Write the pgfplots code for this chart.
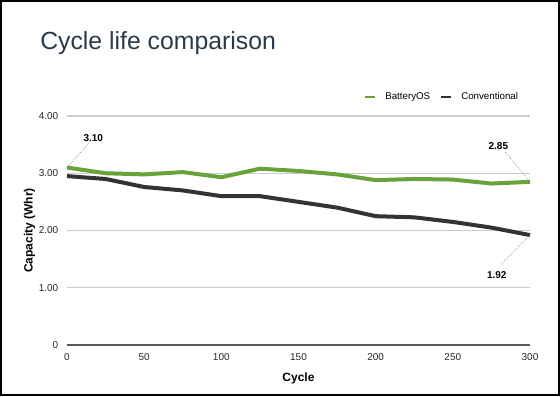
\documentclass[border=0pt]{standalone}
\usepackage{pgfplots}
\pgfplotsset{compat=1.18}
\usepackage{fontspec}
\setmainfont{Liberation Sans}
\definecolor{bgreen}{HTML}{6AA23A}
\definecolor{bdark}{HTML}{333333}
\definecolor{titlec}{HTML}{2B3A4A}
\definecolor{gridc}{HTML}{CCCCCC}
\begin{document}
\begin{tikzpicture}
\useasboundingbox (-50.25pt,-38.25pt) rectangle (369.75pt,258.75pt);
\begin{axis}[
  at={(0,0)}, anchor=south west,
  scale only axis, width=347.25pt, height=171.75pt,
  xmin=0, xmax=300, ymin=0, ymax=4,
  xtick={0,50,...,300},
  ytick={0,1,2,3,4},
  yticklabels={0,1.00,2.00,3.00,4.00},
  /pgf/number format/assume math mode=true,
  tick label style={font=\fontsize{7.5}{9}\selectfont, text=black!85},
  yticklabel style={xshift=-3pt},
  xticklabel style={yshift=-2.5pt},
  axis x line*=bottom, axis y line*=left,
  y axis line style={draw=none},
  x axis line style={draw=black!65, line width=0.8pt},
  major tick length=0pt,
  ymajorgrids, grid style={gridc, line width=0.8pt},
  xlabel={\textbf{Cycle}}, ylabel={\textbf{Capacity (Whr)}},
  label style={font=\fontsize{9}{11}\selectfont},
  xlabel style={yshift=-2.5pt},
  ylabel style={yshift=-4pt},
  legend columns=2,
  legend style={draw=none, fill=none, at={(0.995,1.083)}, anchor=east,
    font=\fontsize{7.3}{9}\selectfont, column sep=3pt,
    nodes={inner xsep=4pt}},
  legend image code/.code={\draw[#1, line width=1.8pt] (0pt,0pt) -- (7.5pt,0pt);},
  clip=false,
]
\addplot[bgreen, line width=3pt, line join=round] coordinates {
 (0,3.10) (25,3.00) (50,2.98) (75,3.02) (100,2.93) (125,3.08) (150,3.04)
 (175,2.98) (200,2.88) (225,2.90) (250,2.89) (275,2.82) (300,2.85)};
\addlegendentry{BatteryOS}
\addplot[bdark, line width=3pt, line join=round] coordinates {
 (0,2.95) (25,2.90) (50,2.76) (75,2.70) (100,2.60) (125,2.60) (150,2.50)
 (175,2.40) (200,2.25) (225,2.23) (250,2.15) (275,2.05) (300,1.92)};
\addlegendentry{Conventional}
\draw[densely dotted, black!50, line width=0.5pt] (axis cs:0,3.10) -- (axis cs:14,3.52);
\node[font=\bfseries\fontsize{7.5}{9}\selectfont] at (axis cs:17,3.62) {3.10};
\draw[densely dotted, black!50, line width=0.5pt] (axis cs:300,2.85) -- (axis cs:284,3.37);
\node[font=\bfseries\fontsize{7.5}{9}\selectfont] at (axis cs:279.5,3.48) {2.85};
\draw[densely dotted, black!50, line width=0.5pt] (axis cs:300,1.92) -- (axis cs:281,1.40);
\node[font=\bfseries\fontsize{7.5}{9}\selectfont] at (axis cs:278.5,1.22) {1.92};
\end{axis}
\node[anchor=base west, text=titlec, font=\fontsize{18.6}{22}\selectfont, inner sep=0pt] at (-20.25pt,221.25pt) {Cycle life comparison};
\draw[line width=1.5pt] (-49.5pt,-37.5pt) rectangle (369pt,258pt);
\end{tikzpicture}
\end{document}
